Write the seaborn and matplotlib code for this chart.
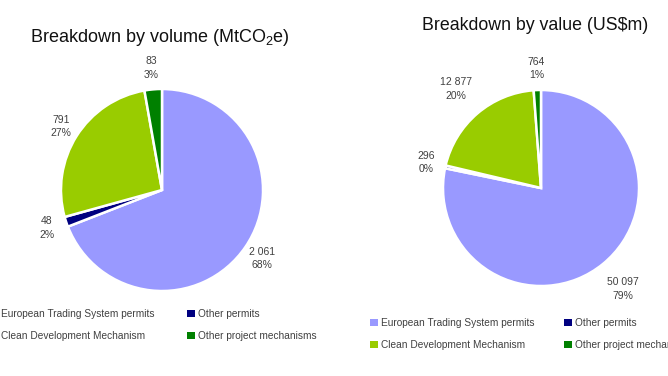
import numpy as np
import matplotlib
matplotlib.use("Agg")
import matplotlib.pyplot as plt
import seaborn as sns
from matplotlib.patches import Patch

categories = ["European Trading System permits", "Other permits",
              "Clean Development Mechanism", "Other project mechanisms"]
volume_values = [2061, 48, 791, 83]
volume_text = ["2 061", "48", "791", "83"]
volume_pct = ["68%", "2%", "27%", "3%"]
value_values = [50097, 296, 12877, 764]
value_text = ["50 097", "296", "12 877", "764"]
value_pct = ["79%", "0%", "20%", "1%"]
colors = ["#9999FF", "#000080", "#99CC00", "#008000"]

sns.set_theme(style="white")
plt.rcParams["font.family"] = ["Liberation Sans", "DejaVu Sans"]
plt.rcParams["mathtext.fontset"] = "custom"
plt.rcParams["mathtext.rm"] = "Liberation Sans"

W, H = 668, 376
fig = plt.figure(figsize=(W / 100, H / 100), dpi=100)
ax = fig.add_axes([0, 0, 1, 1])
ax.set_xlim(0, W)
ax.set_ylim(0, H)
ax.set_aspect("equal")
ax.axis("off")


def draw_pie(vals, vtxt, ptxt, center, radius, dists):
    wedges, _ = ax.pie(vals, colors=colors, startangle=90, counterclock=False,
                       center=center, radius=radius, explode=[0.02] * 4,
                       wedgeprops=dict(edgecolor="white", linewidth=1.8))
    for w, t, p, d in zip(wedges, vtxt, ptxt, dists):
        ang = np.deg2rad((w.theta1 + w.theta2) / 2)
        x = center[0] + radius * d * np.cos(ang)
        y = center[1] + radius * d * np.sin(ang)
        ax.text(x, y, f"{t}\n{p}", ha="center", va="center", fontsize=7.5,
                color="#404040", linespacing=1.45)
    return wedges


wl = draw_pie(volume_values, volume_text, volume_pct, (162, 186), 101,
              [1.2, 1.2, 1.18, 1.21])
wr = draw_pie(value_values, value_text, value_pct, (541, 188), 98,
              [1.33, 1.2, 1.33, 1.22])
ax.set_xlim(0, W)
ax.set_ylim(0, H)

fig.text(160 / W, 1 - 38 / H, r"Breakdown by volume (MtCO$_\mathregular{2}$e)",
         ha="center", va="center", fontsize=13, color="#111111")
fig.text(535 / W, 1 - 25 / H, "Breakdown by value (US$m)",
         ha="center", va="center", fontsize=12.8, color="#111111")


def add_leg(idx, x, y):
    handles = [Patch(facecolor=colors[i], edgecolor="none") for i in idx]
    labels = [categories[i] for i in idx]
    leg = fig.legend(handles, labels, loc="upper left",
                     bbox_to_anchor=(x / W, 1 - y / H), frameon=False,
                     fontsize=7.3, handlelength=0.75, handleheight=0.75,
                     handletextpad=0.35, labelspacing=1.2, borderpad=0,
                     borderaxespad=0)
    for t in leg.get_texts():
        t.set_color("#404040")
    return leg


add_leg([0, 2], -10, 309)
add_leg([1, 3], 187, 309)
add_leg([0, 2], 370, 318)
add_leg([1, 3], 564, 318)

fig.savefig("out.png", dpi=100)
